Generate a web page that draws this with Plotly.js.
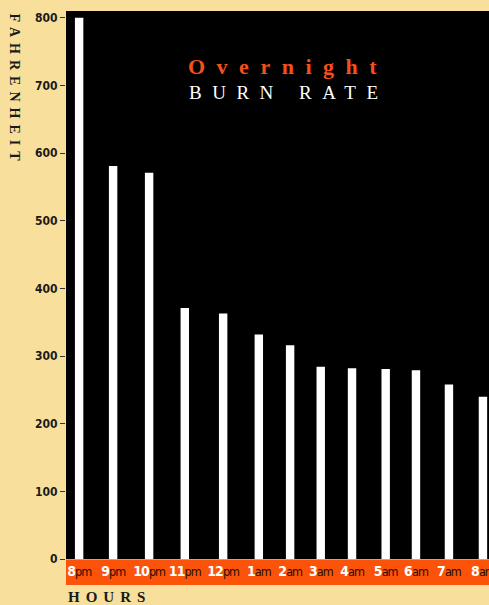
<!DOCTYPE html>
<html>
<head>
<meta charset="utf-8">
<script src="https://cdn.plot.ly/plotly-3.0.1.min.js"></script>
<style>
html,body{margin:0;padding:0;background:#f8e09c;}
.xtick text, .ytick text { font-stretch: condensed; }
</style>
</head>
<body>
<div id="chart" style="width:489px;height:605px;"></div>
<script>
// Reading times (hours after 8pm) and temperatures (°F)
var readingHours = [0, 1.01, 2.08, 3.14, 4.28, 5.34, 6.27, 7.18, 8.11, 9.11, 10.01, 10.99, 12.0];
var temperatures = [800, 581, 571, 371, 363, 332, 316, 284, 282, 281, 279, 258, 240];
var hourNumbers = ['8', '9', '10', '11', '12', '1', '2', '3', '4', '5', '6', '7', '8'];
var hourSuffix = ['pm', 'pm', 'pm', 'pm', 'pm', 'am', 'am', 'am', 'am', 'am', 'am', 'am', 'am'];
var yTicks = [0, 100, 200, 300, 400, 500, 600, 700, 800];

var tickText = hourNumbers.map(function (n, i) {
  return '<span style="color:#ffffff;font-size:14px;letter-spacing:-0.9px"><b>' + n + '</b></span>' +
         '<span style="color:#2a0e00;letter-spacing:-1px">' + hourSuffix[i] + '</span>';
});

var condensed = 'DejaVu Sans Condensed, Liberation Sans Narrow, DejaVu Sans, sans-serif';
var serif = 'Liberation Serif, DejaVu Serif, serif';

var trace = {
  type: 'bar',
  x: readingHours,
  y: temperatures,
  width: 0.25,
  marker: {color: '#ffffff', line: {width: 0}},
  hoverinfo: 'skip'
};

var layout = {
  width: 489,
  height: 605,
  margin: {l: 66, r: 0, t: 11, b: 46},
  paper_bgcolor: '#f8e09c',
  plot_bgcolor: '#000000',
  showlegend: false,
  xaxis: {
    range: [-0.39, 12.18],
    tickmode: 'array',
    tickvals: readingHours,
    ticktext: tickText,
    ticks: '',
    tickangle: 0,
    ticklabeloverflow: 'allow',
    showgrid: false,
    zeroline: false,
    showline: false,
    tickfont: {family: condensed, size: 12.5, color: '#2a0e00'},
    ticklabelstandoff: 3
  },
  yaxis: {
    range: [0, 810],
    tickmode: 'array',
    tickvals: yTicks,
    ticks: 'outside',
    ticklen: 5,
    tickwidth: 1,
    tickcolor: '#333333',
    showgrid: false,
    zeroline: false,
    showline: false,
    tickfont: {family: condensed, size: 12, color: '#1a1a1a', weight: 'bold'}
  },
  shapes: [{
    type: 'rect', xref: 'paper', yref: 'paper',
    x0: 0, x1: 1.01, y0: -0.0474, y1: -0.001,
    fillcolor: '#fc530a', line: {width: 0}, layer: 'below'
  }],
  annotations: [
    {
      xref: 'paper', yref: 'paper', x: 0.524, y: 0.8996, xanchor: 'center', yanchor: 'middle',
      text: '<span style="letter-spacing:11.5px">Overnight</span>', showarrow: false,
      font: {family: serif, size: 22, color: '#f5501a', weight: 'bold'}
    },
    {
      xref: 'paper', yref: 'paper', x: 0.528, y: 0.852, xanchor: 'center', yanchor: 'middle',
      text: '<span style="letter-spacing:10.5px">BURN RATE</span>', showarrow: false,
      font: {family: serif, size: 19, color: '#ffffff'}
    },
    {
      xref: 'paper', yref: 'paper', x: -0.1206, y: 0.855, xanchor: 'center', yanchor: 'middle',
      text: '<span style="letter-spacing:6px">FAHRENHEIT</span>', showarrow: false, textangle: 90,
      font: {family: serif, size: 14, color: '#1a1a1a', weight: 'bold'}
    },
    {
      xref: 'paper', yref: 'paper', x: 0, y: -0.069, xanchor: 'left', yanchor: 'middle',
      text: '<span style="letter-spacing:6px">HOURS</span>', showarrow: false,
      font: {family: serif, size: 15, color: '#1a1a1a', weight: 'bold'}
    }
  ]
};

Plotly.newPlot('chart', [trace], layout, {displayModeBar: false, staticPlot: true});
</script>
</body>
</html>
